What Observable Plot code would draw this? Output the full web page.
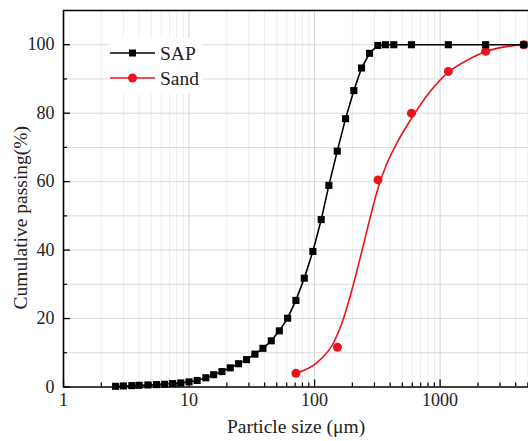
<!DOCTYPE html>
<html><head><meta charset="utf-8">
<script src="https://cdn.jsdelivr.net/npm/d3@7"></script>
<script src="https://cdn.jsdelivr.net/npm/@observablehq/plot@0.6"></script>
<style>
body{margin:0;background:#fff;}
#wrap{position:relative;width:528px;height:441px;overflow:hidden;font-family:"Liberation Serif","Times New Roman",serif;background:#fff;}
#legend{position:absolute;left:108px;top:38px;width:95px;height:56px;background:#fff;}
</style></head><body><div id="wrap"><div id="chart"></div><div id="legend"></div></div>
<script>
// SAP particle size distribution (µm, cumulative %)
const sapSize = [2.6, 3.0, 3.5, 4.0, 4.7, 5.5, 6.4, 7.4, 8.6, 10.0, 11.6, 13.6, 15.7, 18.3, 21.3, 24.8, 28.7, 33.5, 38.8, 45.2, 52.4, 61, 71, 82.8, 96.9, 113, 130, 151.6, 176.5, 205.5, 236.7, 274, 319, 367.5, 427.9, 591, 1163, 2306, 4640];
const sapPassing = [0.2, 0.3, 0.4, 0.5, 0.6, 0.7, 0.8, 1.0, 1.2, 1.5, 1.9, 2.7, 3.6, 4.5, 5.6, 6.8, 8.0, 9.6, 11.3, 13.5, 16.4, 20.1, 25.3, 31.8, 39.6, 48.9, 58.9, 68.9, 78.4, 86.6, 93.2, 97.5, 99.8, 100, 100, 100, 100, 100, 100];
// Sand sieve data
const sandSize = [71, 152, 320, 591, 1163, 2306, 4640];
const sandPassing = [4.0, 11.6, 60.5, 80.0, 92.2, 98.1, 100];
// Sand fitted curve
const sandFitSize = [71, 105, 142, 170, 204, 245, 284, 323, 374, 441, 592, 839, 1167, 1653, 2299, 3198, 4640];
const sandFitPassing = [4.0, 7.2, 13.0, 20.0, 30.0, 41.5, 51.0, 58.5, 65.0, 70.5, 78.5, 86.5, 92.0, 95.5, 98.0, 99.3, 100];

const seriesNames = ["SAP", "Sand"];
const seriesColors = ["#000000", "#e8141b"];

const xMajorTicks = [1, 10, 100, 1000];
const xMinorTicks = [2,3,4,5,6,7,8,9,20,30,40,50,60,70,80,90,200,300,400,500,600,700,800,900,2000,3000,4000,5000];
const yMajorTicks = [0, 20, 40, 60, 80, 100];
const yMinorTicks = [10, 30, 50, 70, 90];
const yGridTicks = [10, 20, 30, 40, 50, 60, 70, 80, 90, 100];
const xTitle = "Particle size (μm)";
const yTitle = "Cumulative passing(%)";

const sap = sapSize.map((s, i) => ({size: s, passing: sapPassing[i]}));
const sand = sandSize.map((s, i) => ({size: s, passing: sandPassing[i]}));
const sandFit = sandFitSize.map((s, i) => ({size: s, passing: sandFitPassing[i]}));

const chart = Plot.plot({
  width: 528, height: 441,
  marginLeft: 63, marginRight: 0, marginTop: 10, marginBottom: 54.5,
  style: {fontFamily: '"Liberation Serif", "Times New Roman", serif', fontSize: "18px", color: "#000", background: "#fff"},
  x: {type: "log", domain: [1, 5060], label: null},
  y: {domain: [0, 110], label: null},
  marks: [
    Plot.ruleX(xMinorTicks, {stroke: "#ededed", strokeWidth: 1}),
    Plot.ruleY(yGridTicks, {stroke: "#dadada", strokeWidth: 1}),
    Plot.ruleX(xMajorTicks.slice(1), {stroke: "#d4d4d4", strokeWidth: 1}),
    Plot.axisX({ticks: xMajorTicks, tickSize: -7, tickFormat: () => "", label: null, strokeWidth: 1.3}),
    Plot.axisX({ticks: xMinorTicks, tickSize: -4, tickFormat: () => "", label: null, strokeWidth: 1.2}),
    Plot.axisY({ticks: yMajorTicks, tickSize: -7, tickFormat: () => "", label: null, strokeWidth: 1.3}),
    Plot.axisY({ticks: yMinorTicks, tickSize: -4, tickFormat: () => "", label: null, strokeWidth: 1.2}),
    Plot.text(xMajorTicks, {x: d => d, frameAnchor: "bottom", dy: 19, text: d => String(d), fontSize: 18, fill: "#222"}),
    Plot.text(yMajorTicks, {y: d => d, frameAnchor: "left", dx: -9, textAnchor: "end", text: d => String(d), fontSize: 18, fill: "#222"}),
    Plot.text([xTitle], {frameAnchor: "bottom", dy: 46, text: d => d, fontSize: 19.5, fill: "#222"}),
    Plot.text([yTitle], {frameAnchor: "left", rotate: -90, dx: -43, dy: 19, textAnchor: "middle", text: d => d, fontSize: 19.5, fill: "#222"}),
    Plot.line(sandFit, {x: "size", y: "passing", stroke: seriesColors[1], strokeWidth: 1.6, curve: "monotone-x"}),
    Plot.dot(sand, {x: "size", y: "passing", fill: seriesColors[1], r: 4.5, symbol: "circle", clip: false}),
    Plot.line(sap, {x: "size", y: "passing", stroke: seriesColors[0], strokeWidth: 1.6}),
    Plot.dot(sap, {x: "size", y: "passing", fill: seriesColors[0], r: 4, symbol: "square"}),
    Plot.ruleX([1], {stroke: "#000", strokeWidth: 1.6}),
    Plot.ruleY([0], {stroke: "#000", strokeWidth: 1.6}),
    Plot.ruleY([110], {stroke: "#000", strokeWidth: 1.6})
  ]
});
document.getElementById("chart").appendChild(chart);

// Legend
const ns = "http://www.w3.org/2000/svg";
const lsvg = document.createElementNS(ns, "svg");
lsvg.setAttribute("width", 95); lsvg.setAttribute("height", 56);
seriesNames.forEach((name, i) => {
  const cy = 15 + i * 25;
  const line = document.createElementNS(ns, "line");
  line.setAttribute("x1", 2); line.setAttribute("x2", 47);
  line.setAttribute("y1", cy); line.setAttribute("y2", cy);
  line.setAttribute("stroke", seriesColors[i]); line.setAttribute("stroke-width", 1.6);
  lsvg.appendChild(line);
  let m;
  if (i === 0) {
    m = document.createElementNS(ns, "rect");
    m.setAttribute("x", 24.5 - 3.5); m.setAttribute("y", cy - 3.5);
    m.setAttribute("width", 7); m.setAttribute("height", 7);
  } else {
    m = document.createElementNS(ns, "circle");
    m.setAttribute("cx", 24.5); m.setAttribute("cy", cy); m.setAttribute("r", 4.5);
  }
  m.setAttribute("fill", seriesColors[i]);
  lsvg.appendChild(m);
  const t = document.createElementNS(ns, "text");
  t.setAttribute("x", 52); t.setAttribute("y", cy);
  t.setAttribute("dy", "0.35em");
  t.setAttribute("font-size", "19.5px");
  t.setAttribute("font-family", '"Liberation Serif", "Times New Roman", serif');
  t.setAttribute("fill", "#222");
  t.textContent = name;
  lsvg.appendChild(t);
});
document.getElementById("legend").appendChild(lsvg);
</script>
</body></html>
